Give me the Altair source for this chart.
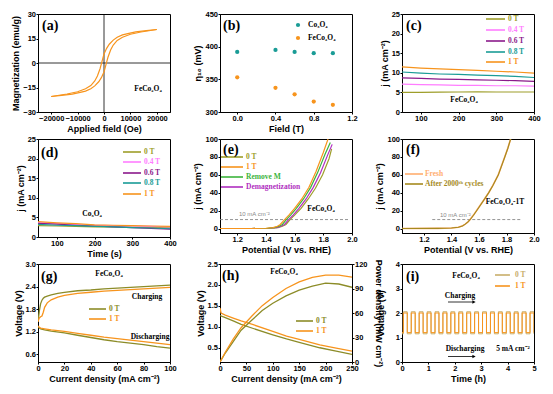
import altair as alt
import pandas as pd

# ---------------- data ----------------
# (a) hysteresis loop of FeCo2O4
a_field_down = [20000, 16000, 12000, 9000, 7000, 5000, 3500, 2000, 1000, 0, -500, -1000, -1500, -2500, -3500, -5000, -7000, -10000, -14000, -20000]
a_mag_down = [20.5, 19.8, 19.0, 18.0, 17.2, 15.8, 14.0, 11.5, 9.0, 5.5, 2.5, -0.5, -3.5, -8.0, -11.0, -13.8, -15.8, -17.6, -19.0, -20.5]
a_field_up = [-20000, -16000, -12000, -9000, -7000, -5000, -3500, -2000, -1000, 0, 500, 1000, 1500, 2500, 3500, 5000, 7000, 10000, 14000, 20000]
a_mag_up = [-20.5, -19.8, -19.0, -18.0, -17.2, -15.8, -14.0, -11.5, -9.0, -5.5, -2.5, 0.5, 3.5, 8.0, 11.0, 13.8, 15.8, 17.6, 19.0, 20.5]

# (b) overpotential at 10 mA cm-2 vs field
b_field = [0.0, 0.4, 0.6, 0.8, 1.0]
b_co3o4 = [392, 395, 392, 390, 390]
b_feco2o4 = [353, 337, 327, 316, 311]

# (c) chronoamperometry FeCo2O4, (d) Co3O4
cd_time = [50, 100, 150, 200, 250, 300, 350, 400]
c_0T = [5.0, 5.0, 5.05, 5.1, 5.15, 5.1, 5.1, 5.1]
c_04T = [7.1, 7.0, 6.9, 6.8, 6.8, 6.7, 6.7, 6.6]
c_06T = [8.7, 8.6, 8.4, 8.3, 8.2, 8.1, 8.0, 7.8]
c_08T = [10.2, 9.9, 9.7, 9.6, 9.4, 9.3, 9.1, 8.8]
c_1T = [11.5, 11.2, 11.0, 10.8, 10.6, 10.4, 10.2, 9.9]
d_0T = [2.9, 2.8, 2.7, 2.6, 2.6, 2.5, 2.5, 2.4]
d_04T = [3.7, 3.5, 3.2, 3.0, 2.9, 2.8, 2.7, 2.6]
d_06T = [3.5, 3.3, 3.0, 2.8, 2.6, 2.4, 2.2, 2.0]
d_08T = [3.2, 3.0, 2.9, 2.7, 2.6, 2.4, 2.3, 2.1]
d_1T = [3.9, 3.6, 3.4, 3.1, 3.0, 2.9, 2.8, 2.7]

# (e) LSV curves
e_v_0T = [1.08, 1.30, 1.43, 1.485, 1.515, 1.54, 1.568, 1.60, 1.645, 1.695, 1.745, 1.795, 1.84, 1.858]
e_j_0T = [0, 0, 0.3, 1.0, 2.5, 4.5, 10, 15, 22.5, 33, 45, 60, 78, 89]
e_v_1T = [1.08, 1.30, 1.40, 1.45, 1.48, 1.50, 1.53, 1.56, 1.60, 1.65, 1.70, 1.75, 1.80, 1.833]
e_j_1T = [0, 0, 0.3, 1.0, 2.5, 4.5, 10, 15, 22.5, 33, 46, 64, 85, 100]
e_v_rm = [1.08, 1.30, 1.41, 1.46, 1.49, 1.515, 1.542, 1.572, 1.612, 1.662, 1.712, 1.762, 1.812, 1.849]
e_j_rm = [0, 0, 0.3, 1.0, 2.5, 4.5, 10, 15, 22.5, 33, 46, 63, 83, 96]
e_v_dm = [1.08, 1.30, 1.42, 1.475, 1.505, 1.53, 1.558, 1.59, 1.63, 1.68, 1.73, 1.78, 1.83, 1.862]
e_j_dm = [0, 0, 0.3, 1.0, 2.5, 4.5, 10, 15, 22.5, 33, 46, 62, 82, 94]

# (f) stability LSV
f_v = [1.04, 1.30, 1.40, 1.45, 1.48, 1.50, 1.52, 1.535, 1.56, 1.60, 1.64, 1.67, 1.70, 1.74, 1.787, 1.81, 1.83]
f_j_fresh = [0, 0.2, 0.6, 1.5, 3.0, 5.0, 7.5, 10, 15, 24, 33, 40, 48, 60, 80, 90, 100]
f_j_after = [0, 0.2, 0.6, 1.4, 2.9, 4.9, 7.4, 9.8, 14.8, 23.7, 32.8, 39.8, 47.8, 59.7, 79.6, 89.7, 99.8]

# (g) charge / discharge polarization
g_cd_charge = [0, 1, 2, 3, 4, 5, 7, 10, 15, 20, 30, 40, 50, 60, 70, 80, 90, 100]
g_ch_0T = [1.47, 1.75, 1.95, 2.04, 2.09, 2.12, 2.15, 2.18, 2.22, 2.25, 2.29, 2.31, 2.34, 2.36, 2.38, 2.40, 2.42, 2.44]
g_ch_1T = [1.47, 1.57, 1.60, 1.62, 1.72, 1.85, 1.97, 2.05, 2.12, 2.17, 2.22, 2.25, 2.28, 2.30, 2.32, 2.34, 2.36, 2.38]
g_cd_dis = [0, 1, 2, 5, 10, 20, 30, 40, 50, 60, 70, 80, 90, 100]
g_dis_0T = [1.34, 1.30, 1.28, 1.25, 1.22, 1.17, 1.11, 1.05, 0.99, 0.94, 0.90, 0.86, 0.81, 0.77]
g_dis_1T = [1.36, 1.32, 1.30, 1.28, 1.25, 1.21, 1.16, 1.11, 1.06, 1.02, 0.98, 0.94, 0.90, 0.86]

# (h) discharge polarization and power density
h_cd_v0 = [0, 10, 25, 40, 63, 100, 126, 150, 189, 220, 250]
h_v_0T = [1.27, 1.22, 1.14, 1.06, 0.96, 0.81, 0.71, 0.63, 0.50, 0.42, 0.34]
h_cd_v1 = [0, 2, 10, 25, 40, 63, 100, 126, 150, 189, 220, 250]
h_v_1T = [1.45, 1.33, 1.28, 1.21, 1.14, 1.05, 0.89, 0.78, 0.70, 0.57, 0.49, 0.42]
h_cd_p = [0, 10, 25, 40, 60, 80, 100, 125, 150, 175, 200, 225, 250]
h_p_0T = [0, 11, 25, 39, 51, 63, 72, 81, 88, 93, 96.5, 95.5, 91.5]
h_p_1T = [0, 12, 28, 42, 56, 69, 79, 90, 98, 103.5, 106.5, 106.5, 104]

# (i) galvanostatic cycling at 5 mA cm-2 (switch times in h)
i_switch = [0.05, 0.2, 0.35, 0.5, 0.65, 0.8, 0.95, 1.1, 1.25, 1.4, 1.55, 1.7, 1.85, 2.0, 2.15, 2.3,
            2.45, 2.6, 2.75, 2.9, 3.05, 3.2, 3.35, 3.5, 3.65, 3.8, 3.95, 4.1, 4.25, 4.4, 4.55, 4.7, 4.85, 5.0]
i_levels_0T = [1.15, 2.05]   # discharge, charge
i_levels_1T = [1.20, 2.00]

# ---------------- styles ----------------
SERIF = "Liberation Serif"
SANS = "Liberation Sans"
OLIVE = "#9e9e2a"
OLIVE_D = "#8c8c28"
PINK = "#ff7dff"
PURPLE = "#8b1a8b"
TEAL = "#1a9c96"
ORANGE = "#f7941d"
GREEN = "#3cb43c"
VIOLET = "#b02fc0"
LORANGE = "#ffae70"
GOLD = "#a58a1e"
TAN = "#c8ae6a"
W = 132
H = 98


def series_df(items):
    rows = []
    for name, xs, ys, color in items:
        for i, (xv, yv) in enumerate(zip(xs, ys)):
            rows.append({"x": xv, "y": yv, "s": name, "c": color, "i": i})
    return pd.DataFrame(rows)


def XE(dom, vals, title, fmt=None, **kw):
    ax = alt.Axis(values=vals, title=title, **({"format": fmt} if fmt else {}), **kw)
    return alt.X("x:Q", scale=alt.Scale(domain=dom, nice=False, zero=False), axis=ax)


def YE(dom, vals, title, fmt=None, **kw):
    ax = alt.Axis(values=vals, title=title, **({"format": fmt} if fmt else {}), **kw)
    return alt.Y("y:Q", scale=alt.Scale(domain=dom, nice=False, zero=False), axis=ax)


def lines(df, xe, ye, width=1.1):
    return alt.Chart(df).mark_line(strokeWidth=width, clip=True).encode(
        x=xe, y=ye, color=alt.Color("c:N", scale=None), detail="s:N", order="i:Q")


def texts(items, size=7.5, font=SERIF, weight="bold", align="left", baseline="middle"):
    df = pd.DataFrame(items, columns=["px", "py", "t", "c"])
    return alt.Chart(df).mark_text(font=font, fontSize=size, fontWeight=weight,
                                   align=align, baseline=baseline).encode(
        x=alt.X("px:Q", scale=None, axis=None),
        y=alt.Y("py:Q", scale=None, axis=None),
        text="t:N", color=alt.Color("c:N", scale=None))


def panel_label(txt, px, py):
    return texts([(px, py, txt, "black")], size=14, baseline="top")


def leg_lines(items, width=1.6):
    df = pd.DataFrame(items, columns=["x1", "x2", "py", "c"])
    return alt.Chart(df).mark_rule(strokeWidth=width).encode(
        x=alt.X("x1:Q", scale=None, axis=None), x2="x2:Q",
        y=alt.Y("py:Q", scale=None, axis=None), color=alt.Color("c:N", scale=None))


def legend(names, colors, rows, x1, x2, xl, size=7.5):
    ll = leg_lines([(x1, x2, r, c) for r, c in zip(rows, colors)])
    tt = texts([(xl, r, n, c) for r, n, c in zip(rows, names, colors)], size=size)
    return [ll, tt]


# ---------------- (a) ----------------
ax_a = XE([-25000, 25000], [-20000, -10000, 0, 10000, 20000], "Applied field (Oe)", "d")
ay_a = YE([-30, 30], [-30, -15, 0, 15, 30], "Magnetization (emu/g)", "d")
df_a = series_df([("down", a_field_down, a_mag_down, ORANGE), ("up", a_field_up, a_mag_up, ORANGE)])
zero_a = pd.DataFrame({"x": [0], "y": [0]})
pa = alt.layer(
    alt.Chart(zero_a).mark_rule(color="black", strokeWidth=0.8).encode(x=ax_a),
    alt.Chart(zero_a).mark_rule(color="black", strokeWidth=0.8).encode(y=ay_a),
    lines(df_a, ax_a, ay_a, 1.2),
    texts([(110, 75, "FeCo₂O₄", "black")], align="center"),
    panel_label("(a)", 4, 5),
).properties(width=W, height=H)

# ---------------- (b) ----------------
ax_b = XE([-0.18, 1.2], [0.0, 0.4, 0.8, 1.2], "Field (T)", ".1f")
ay_b = YE([300, 450], [300, 350, 400, 450], "η₁₀ (mV)")
df_b = series_df([("Co3O4", b_field, b_co3o4, TEAL), ("FeCo2O4", b_field, b_feco2o4, ORANGE)])
leg_b = pd.DataFrame({"px": [78, 78], "py": [11, 24], "c": [TEAL, ORANGE]})
pb = alt.layer(
    alt.Chart(df_b).mark_circle(size=18, opacity=1).encode(x=ax_b, y=ay_b, color=alt.Color("c:N", scale=None)),
    alt.Chart(leg_b).mark_circle(size=18, opacity=1).encode(
        x=alt.X("px:Q", scale=None, axis=None), y=alt.Y("py:Q", scale=None, axis=None),
        color=alt.Color("c:N", scale=None)),
    texts([(88, 11, "Co₃O₄", "black"), (88, 24, "FeCo₂O₄", "black")], size=7.5),
    panel_label("(b)", 3, 5),
).properties(width=W, height=H)

# ---------------- (c) ----------------
ct_names = ["0 T", "0.4 T", "0.6 T", "0.8 T", "1 T"]
ct_colors = [OLIVE, PINK, PURPLE, TEAL, ORANGE]
ax_c = XE([50, 400], [100, 200, 300, 400], "")
ay_c = YE([0, 25], [0, 5, 10, 15, 20, 25], "j (mA cm⁻²)")
df_c = series_df([(n, cd_time, v, c) for n, v, c in zip(ct_names, [c_0T, c_04T, c_06T, c_08T, c_1T], ct_colors)])
pc = alt.layer(
    lines(df_c, ax_c, ay_c, 1.2),
    *legend(ct_names, ct_colors, [5, 16, 27, 38, 48], 84, 103, 106),
    texts([(62, 86, "FeCo₂O₄", "black")], align="center"),
    panel_label("(c)", 4, 5),
).properties(width=W, height=H)

# ---------------- (d) ----------------
ax_d = XE([50, 400], [100, 200, 300, 400], "Time (s)")
ay_d = YE([0, 25], [0, 5, 10, 15, 20, 25], "j (mA cm⁻²)")
df_d = series_df([(n, cd_time, v, c) for n, v, c in zip(ct_names, [d_0T, d_04T, d_06T, d_08T, d_1T], ct_colors)])
pd_ = alt.layer(
    lines(df_d, ax_d, ay_d, 1.2),
    *legend(ct_names, ct_colors, [13, 23, 34, 44, 55], 85, 103, 106),
    texts([(54, 75, "Co₃O₄", "black")], align="center"),
    panel_label("(d)", 3, 7),
).properties(width=W, height=H)

# ---------------- (e) ----------------
HE = 94
e_names = ["0 T", "1 T", "Remove M", "Demagnetization"]
e_colors = [OLIVE, ORANGE, GREEN, VIOLET]
ax_e = XE([1.08, 2.0], [1.2, 1.4, 1.6, 1.8, 2.0], "Potential (V vs. RHE)", ".1f")
ay_e = YE([-5, 100], [0, 20, 40, 60, 80, 100], "j (mA cm⁻²)")
df_e = series_df([("0T", e_v_0T, e_j_0T, OLIVE), ("dm", e_v_dm, e_j_dm, VIOLET),
                  ("rm", e_v_rm, e_j_rm, GREEN), ("1T", e_v_1T, e_j_1T, ORANGE)])
ref_e = pd.DataFrame({"x": [1.08], "x2": [1.98], "y": [10]})
pe = alt.layer(
    alt.Chart(ref_e).mark_rule(color="#888888", strokeDash=[3, 2], strokeWidth=0.9).encode(x=ax_e, x2="x2:Q", y=ay_e),
    lines(df_e, ax_e, ay_e, 1.2),
    *legend(e_names, e_colors, [18, 28, 38, 48], 1, 23, 26),
    texts([(19, 75, "10 mA cm⁻²", "#888888")], size=6, font=SANS, weight="normal"),
    texts([(101, 70, "FeCo₂O₄", "black")], align="center"),
    panel_label("(e)", 3, 4),
).properties(width=W, height=HE)

# ---------------- (f) ----------------
ax_f = XE([1.04, 2.0], [1.2, 1.4, 1.6, 1.8, 2.0], "Potential (V vs. RHE)", ".1f")
ay_f = YE([-5, 100], [0, 20, 40, 60, 80, 100], "j (mA cm⁻²)")
df_f1 = series_df([("fresh", f_v, f_j_fresh, LORANGE)])
df_f2 = series_df([("after", f_v, f_j_after, GOLD)])
ref_f = pd.DataFrame({"x": [1.26], "x2": [1.9], "y": [10]})
pf = alt.layer(
    alt.Chart(ref_f).mark_rule(color="#888888", strokeDash=[3, 2], strokeWidth=0.9).encode(x=ax_f, x2="x2:Q", y=ay_f),
    lines(df_f1, ax_f, ay_f, 1.6),
    lines(df_f2, ax_f, ay_f, 1.1),
    *legend(["Fresh", "After 2000ᵗʰ cycles"], [LORANGE, GOLD], [35, 45], 3, 21, 23),
    texts([(38, 76, "10 mA cm⁻²", "#888888")], size=6, font=SANS, weight="normal"),
    texts([(103, 63, "FeCo₂O₄-1T", "black")], align="center"),
    panel_label("(f)", 4, 4),
).properties(width=W, height=HE)

# ---------------- (g) ----------------
ax_g = XE([0, 100], [0, 20, 40, 60, 80, 100], "Current density (mA cm⁻²)")
ay_g = YE([0.4, 3.0], [0.6, 1.2, 1.8, 2.4, 3.0], "Voltage (V)", ".1f")
df_g = series_df([("c0", g_cd_charge, g_ch_0T, OLIVE_D), ("c1", g_cd_charge, g_ch_1T, ORANGE),
                  ("d0", g_cd_dis, g_dis_0T, OLIVE_D), ("d1", g_cd_dis, g_dis_1T, ORANGE)])
pg = alt.layer(
    lines(df_g, ax_g, ay_g, 1.3),
    *legend(["0 T", "1 T"], [OLIVE_D, ORANGE], [45, 55], 51, 68, 71),
    texts([(71, 10, "FeCo₂O₄", "black"), (109, 33, "Charging", "black"),
           (112, 73, "Discharging", "black")], align="center"),
    panel_label("(g)", 3, 6),
).properties(width=W, height=H)

# ---------------- (h) ----------------
ax_h = XE([0, 250], [0, 50, 100, 150, 200, 250], "Current density (mA cm⁻²)")
ay_h = YE([0.16, 2.5], [0.5, 1.0, 1.5, 2.0, 2.5], "Voltage (V)", ".1f")
ay_h2 = YE([0, 120], [0, 30, 60, 90, 120], "Power density (mW cm⁻²)", None, orient="right", titlePadding=6)
df_hv = series_df([("v0", h_cd_v0, h_v_0T, OLIVE_D), ("v1", h_cd_v1, h_v_1T, ORANGE)])
df_hp = series_df([("p0", h_cd_p, h_p_0T, OLIVE_D), ("p1", h_cd_p, h_p_1T, ORANGE)])
ph = alt.layer(
    lines(df_hv, ax_h, ay_h, 1.3),
    lines(df_hp, ax_h, ay_h2, 1.3),
    *legend(["0 T", "1 T"], [OLIVE_D, ORANGE], [57, 67], 76, 93, 96),
    texts([(64, 8, "FeCo₂O₄", "black")], align="center"),
    panel_label("(h)", 2, 5),
).resolve_scale(y="independent").properties(width=W, height=H)

# ---------------- (i) ----------------
def square(levels):
    xs, ys = [0.0], [levels[0]]
    state = 0
    for t in i_switch:
        xs.append(t); ys.append(levels[state])
        state = 1 - state
        xs.append(t); ys.append(levels[state])
    return xs, ys

x0, y0 = square(i_levels_0T)
x1, y1 = square(i_levels_1T)
ax_i = XE([0, 5], [0, 1, 2, 3, 4, 5], "Time (h)")
ay_i = YE([0, 4], [0, 1, 2, 3, 4], "Voltage (V)", None, titlePadding=10)
df_i = series_df([("0T", x0, y0, TAN), ("1T", x1, y1, ORANGE)])
arr = pd.DataFrame({"x1": [46, 46], "x2": [71, 71], "py": [38, 92.5]})
arr_head = pd.DataFrame({"px": [72, 72], "py": [38, 92.5]})
pi = alt.layer(
    lines(df_i, ax_i, ay_i, 1.0),
    alt.Chart(arr).mark_rule(color="black", strokeWidth=0.8).encode(
        x=alt.X("x1:Q", scale=None, axis=None), x2="x2:Q", y=alt.Y("py:Q", scale=None, axis=None)),
    alt.Chart(arr_head).mark_point(shape="triangle-right", filled=True, size=14, color="black", opacity=1).encode(
        x=alt.X("px:Q", scale=None, axis=None), y=alt.Y("py:Q", scale=None, axis=None)),
    *legend(["0 T", "1 T"], [TAN, ORANGE], [11, 22], 93, 108, 113),
    texts([(64, 12, "FeCo₂O₄", "black"), (58, 32, "Charging", "black"),
           (63, 85, "Discharging", "black"), (111, 85, "5 mA cm⁻²", "black")], align="center"),
    panel_label("(i)", 4, 6),
).properties(width=W, height=H)

chart = alt.concat(pa, pb, pc, pd_, pe, pf, pg, ph, pi, columns=3,
                   spacing={"row": 27, "column": 50}, bounds="flush").properties(
    padding={"left": 3, "top": 1, "right": 2, "bottom": 2}
).configure_view(stroke="black", strokeWidth=1).configure_axis(
    labelFont=SANS, labelFontSize=7.5, labelFontWeight="bold", labelColor="black",
    titleFont=SANS, titleFontSize=9, titleFontWeight="bold", titleColor="black",
    domainColor="black", domainWidth=1, tickColor="black", tickSize=2,
    labelPadding=0.5, titlePadding=2, grid=False, labelFlush=False, labelOverlap=False
)

chart.save("out.html", embed_options={"renderer": "svg", "actions": False})
